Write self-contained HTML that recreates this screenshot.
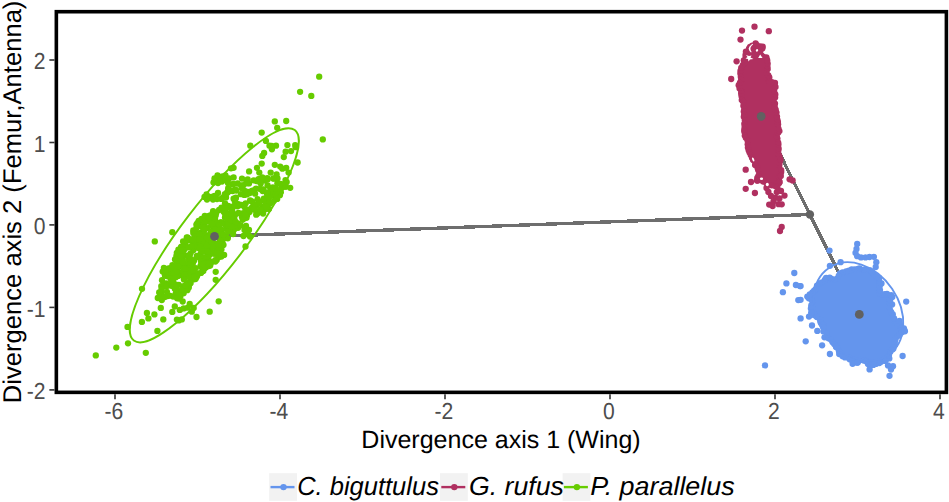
<!DOCTYPE html>
<html><head><meta charset="utf-8"><style>html,body{margin:0;padding:0;background:#fff;overflow:hidden}svg{display:block;font-family:'Liberation Sans',sans-serif}</style></head>
<body><svg width="949" height="502" viewBox="0 0 949 502" text-rendering="geometricPrecision">
<rect width="949" height="502" fill="#fff"/>
<g stroke="#6e6e6e" stroke-width="3.4" stroke-linecap="butt" shape-rendering="crispEdges"><line x1="214.5" y1="236.4" x2="809.9" y2="214.5"/><line x1="761.2" y1="116.3" x2="809.9" y2="214.5"/><line x1="859.3" y1="314.4" x2="809.9" y2="214.5"/></g><g fill="#66CC00"><circle cx="178.1" cy="291.2" r="3.15"/><circle cx="175.7" cy="293.7" r="3.15"/><circle cx="207.0" cy="239.8" r="3.15"/><circle cx="185.5" cy="245.0" r="3.15"/><circle cx="204.9" cy="249.7" r="3.15"/><circle cx="178.1" cy="259.8" r="3.15"/><circle cx="203.9" cy="234.5" r="3.15"/><circle cx="249.0" cy="183.4" r="3.15"/><circle cx="162.0" cy="280.2" r="3.15"/><circle cx="175.4" cy="267.9" r="3.15"/><circle cx="270.1" cy="203.5" r="3.15"/><circle cx="215.7" cy="215.5" r="3.15"/><circle cx="279.9" cy="195.2" r="3.15"/><circle cx="257.9" cy="181.1" r="3.15"/><circle cx="241.9" cy="216.8" r="3.15"/><circle cx="199.9" cy="225.5" r="3.15"/><circle cx="167.5" cy="276.2" r="3.15"/><circle cx="165.2" cy="275.6" r="3.15"/><circle cx="193.7" cy="274.1" r="3.15"/><circle cx="223.8" cy="212.0" r="3.15"/><circle cx="237.4" cy="206.3" r="3.15"/><circle cx="205.4" cy="267.3" r="3.15"/><circle cx="179.0" cy="275.3" r="3.15"/><circle cx="257.4" cy="213.6" r="3.15"/><circle cx="203.2" cy="269.2" r="3.15"/><circle cx="178.8" cy="284.8" r="3.15"/><circle cx="232.7" cy="184.4" r="3.15"/><circle cx="176.8" cy="252.8" r="3.15"/><circle cx="227.8" cy="238.3" r="3.15"/><circle cx="228.8" cy="191.5" r="3.15"/><circle cx="185.9" cy="264.8" r="3.15"/><circle cx="215.7" cy="226.7" r="3.15"/><circle cx="285.5" cy="186.5" r="3.15"/><circle cx="206.1" cy="239.3" r="3.15"/><circle cx="179.7" cy="292.3" r="3.15"/><circle cx="236.3" cy="225.9" r="3.15"/><circle cx="221.1" cy="241.3" r="3.15"/><circle cx="263.1" cy="207.0" r="3.15"/><circle cx="215.7" cy="221.6" r="3.15"/><circle cx="261.4" cy="178.9" r="3.15"/><circle cx="236.9" cy="204.6" r="3.15"/><circle cx="202.8" cy="246.2" r="3.15"/><circle cx="209.0" cy="215.8" r="3.15"/><circle cx="186.9" cy="286.4" r="3.15"/><circle cx="278.6" cy="192.5" r="3.15"/><circle cx="235.2" cy="214.7" r="3.15"/><circle cx="194.2" cy="260.5" r="3.15"/><circle cx="197.4" cy="223.1" r="3.15"/><circle cx="209.1" cy="219.0" r="3.15"/><circle cx="273.3" cy="195.5" r="3.15"/><circle cx="183.1" cy="241.5" r="3.15"/><circle cx="225.7" cy="216.8" r="3.15"/><circle cx="219.0" cy="235.3" r="3.15"/><circle cx="180.2" cy="292.8" r="3.15"/><circle cx="241.6" cy="204.9" r="3.15"/><circle cx="161.2" cy="291.8" r="3.15"/><circle cx="208.8" cy="242.7" r="3.15"/><circle cx="233.9" cy="217.7" r="3.15"/><circle cx="267.3" cy="178.2" r="3.15"/><circle cx="166.3" cy="283.5" r="3.15"/><circle cx="187.3" cy="290.2" r="3.15"/><circle cx="262.9" cy="207.3" r="3.15"/><circle cx="246.4" cy="181.8" r="3.15"/><circle cx="200.7" cy="253.7" r="3.15"/><circle cx="217.3" cy="235.9" r="3.15"/><circle cx="210.5" cy="215.3" r="3.15"/><circle cx="193.3" cy="250.2" r="3.15"/><circle cx="232.1" cy="231.3" r="3.15"/><circle cx="203.9" cy="263.9" r="3.15"/><circle cx="216.7" cy="251.5" r="3.15"/><circle cx="221.4" cy="256.6" r="3.15"/><circle cx="252.3" cy="201.8" r="3.15"/><circle cx="206.3" cy="260.9" r="3.15"/><circle cx="192.0" cy="261.3" r="3.15"/><circle cx="249.8" cy="193.1" r="3.15"/><circle cx="198.7" cy="221.0" r="3.15"/><circle cx="196.4" cy="228.2" r="3.15"/><circle cx="192.8" cy="263.2" r="3.15"/><circle cx="228.8" cy="190.3" r="3.15"/><circle cx="229.6" cy="219.5" r="3.15"/><circle cx="206.5" cy="266.8" r="3.15"/><circle cx="186.7" cy="283.5" r="3.15"/><circle cx="217.8" cy="254.8" r="3.15"/><circle cx="204.6" cy="225.4" r="3.15"/><circle cx="253.7" cy="180.3" r="3.15"/><circle cx="259.1" cy="201.4" r="3.15"/><circle cx="174.8" cy="288.8" r="3.15"/><circle cx="232.5" cy="217.8" r="3.15"/><circle cx="258.4" cy="211.5" r="3.15"/><circle cx="217.4" cy="248.7" r="3.15"/><circle cx="166.1" cy="275.4" r="3.15"/><circle cx="195.0" cy="244.1" r="3.15"/><circle cx="230.7" cy="218.2" r="3.15"/><circle cx="217.3" cy="232.4" r="3.15"/><circle cx="238.4" cy="204.1" r="3.15"/><circle cx="204.8" cy="216.0" r="3.15"/><circle cx="248.7" cy="209.8" r="3.15"/><circle cx="238.1" cy="227.8" r="3.15"/><circle cx="281.6" cy="187.9" r="3.15"/><circle cx="215.8" cy="252.4" r="3.15"/><circle cx="286.7" cy="182.1" r="3.15"/><circle cx="226.8" cy="207.3" r="3.15"/><circle cx="191.9" cy="241.0" r="3.15"/><circle cx="178.3" cy="267.0" r="3.15"/><circle cx="193.9" cy="248.6" r="3.15"/><circle cx="243.7" cy="185.1" r="3.15"/><circle cx="247.8" cy="191.9" r="3.15"/><circle cx="212.3" cy="239.5" r="3.15"/><circle cx="264.9" cy="180.5" r="3.15"/><circle cx="203.7" cy="247.4" r="3.15"/><circle cx="213.3" cy="236.7" r="3.15"/><circle cx="257.5" cy="199.2" r="3.15"/><circle cx="187.1" cy="288.8" r="3.15"/><circle cx="234.8" cy="201.0" r="3.15"/><circle cx="170.4" cy="271.6" r="3.15"/><circle cx="201.1" cy="241.4" r="3.15"/><circle cx="185.4" cy="271.6" r="3.15"/><circle cx="205.1" cy="268.0" r="3.15"/><circle cx="267.6" cy="179.6" r="3.15"/><circle cx="266.5" cy="205.5" r="3.15"/><circle cx="211.6" cy="251.6" r="3.15"/><circle cx="182.7" cy="261.9" r="3.15"/><circle cx="219.6" cy="247.6" r="3.15"/><circle cx="203.6" cy="220.4" r="3.15"/><circle cx="214.8" cy="221.2" r="3.15"/><circle cx="265.1" cy="209.3" r="3.15"/><circle cx="234.0" cy="205.9" r="3.15"/><circle cx="189.8" cy="273.1" r="3.15"/><circle cx="189.8" cy="283.8" r="3.15"/><circle cx="180.1" cy="275.0" r="3.15"/><circle cx="213.2" cy="235.4" r="3.15"/><circle cx="193.5" cy="271.5" r="3.15"/><circle cx="183.6" cy="293.2" r="3.15"/><circle cx="177.8" cy="270.9" r="3.15"/><circle cx="201.1" cy="261.4" r="3.15"/><circle cx="218.9" cy="255.5" r="3.15"/><circle cx="220.6" cy="222.4" r="3.15"/><circle cx="263.1" cy="213.5" r="3.15"/><circle cx="214.2" cy="253.8" r="3.15"/><circle cx="251.6" cy="207.8" r="3.15"/><circle cx="270.4" cy="188.2" r="3.15"/><circle cx="195.2" cy="243.6" r="3.15"/><circle cx="179.1" cy="261.5" r="3.15"/><circle cx="186.0" cy="270.8" r="3.15"/><circle cx="220.8" cy="232.0" r="3.15"/><circle cx="203.3" cy="270.9" r="3.15"/><circle cx="226.2" cy="228.3" r="3.15"/><circle cx="196.9" cy="276.5" r="3.15"/><circle cx="170.8" cy="268.1" r="3.15"/><circle cx="229.6" cy="206.6" r="3.15"/><circle cx="210.2" cy="243.5" r="3.15"/><circle cx="223.4" cy="244.9" r="3.15"/><circle cx="177.9" cy="297.9" r="3.15"/><circle cx="221.6" cy="222.5" r="3.15"/><circle cx="213.1" cy="230.5" r="3.15"/><circle cx="267.6" cy="185.3" r="3.15"/><circle cx="183.6" cy="286.2" r="3.15"/><circle cx="181.2" cy="257.3" r="3.15"/><circle cx="175.2" cy="274.2" r="3.15"/><circle cx="193.1" cy="279.4" r="3.15"/><circle cx="177.9" cy="275.9" r="3.15"/><circle cx="209.4" cy="255.0" r="3.15"/><circle cx="195.3" cy="231.7" r="3.15"/><circle cx="162.4" cy="287.3" r="3.15"/><circle cx="202.9" cy="235.2" r="3.15"/><circle cx="256.3" cy="205.4" r="3.15"/><circle cx="168.6" cy="268.3" r="3.15"/><circle cx="182.0" cy="264.4" r="3.15"/><circle cx="217.0" cy="252.1" r="3.15"/><circle cx="184.6" cy="249.2" r="3.15"/><circle cx="191.4" cy="266.2" r="3.15"/><circle cx="243.2" cy="213.1" r="3.15"/><circle cx="221.9" cy="230.5" r="3.15"/><circle cx="277.4" cy="183.2" r="3.15"/><circle cx="180.5" cy="296.1" r="3.15"/><circle cx="196.9" cy="257.2" r="3.15"/><circle cx="261.4" cy="212.1" r="3.15"/><circle cx="237.7" cy="183.5" r="3.15"/><circle cx="244.3" cy="194.9" r="3.15"/><circle cx="201.8" cy="267.5" r="3.15"/><circle cx="262.8" cy="189.8" r="3.15"/><circle cx="264.7" cy="201.2" r="3.15"/><circle cx="208.1" cy="257.5" r="3.15"/><circle cx="238.2" cy="224.5" r="3.15"/><circle cx="196.4" cy="246.0" r="3.15"/><circle cx="210.7" cy="252.7" r="3.15"/><circle cx="232.4" cy="207.8" r="3.15"/><circle cx="216.7" cy="259.9" r="3.15"/><circle cx="195.0" cy="276.0" r="3.15"/><circle cx="184.3" cy="277.7" r="3.15"/><circle cx="258.6" cy="179.2" r="3.15"/><circle cx="173.1" cy="296.5" r="3.15"/><circle cx="211.1" cy="225.8" r="3.15"/><circle cx="234.3" cy="218.7" r="3.15"/><circle cx="219.9" cy="239.4" r="3.15"/><circle cx="215.4" cy="261.6" r="3.15"/><circle cx="181.6" cy="246.7" r="3.15"/><circle cx="169.5" cy="295.7" r="3.15"/><circle cx="181.3" cy="265.1" r="3.15"/><circle cx="220.1" cy="246.0" r="3.15"/><circle cx="241.3" cy="185.5" r="3.15"/><circle cx="194.4" cy="277.6" r="3.15"/><circle cx="212.0" cy="217.8" r="3.15"/><circle cx="269.1" cy="193.3" r="3.15"/><circle cx="225.0" cy="217.4" r="3.15"/><circle cx="200.2" cy="233.0" r="3.15"/><circle cx="203.7" cy="231.8" r="3.15"/><circle cx="164.9" cy="275.1" r="3.15"/><circle cx="163.7" cy="283.7" r="3.15"/><circle cx="185.1" cy="277.3" r="3.15"/><circle cx="188.9" cy="240.2" r="3.15"/><circle cx="276.2" cy="195.9" r="3.15"/><circle cx="280.8" cy="192.2" r="3.15"/><circle cx="212.8" cy="213.2" r="3.15"/><circle cx="194.6" cy="232.6" r="3.15"/><circle cx="267.3" cy="198.2" r="3.15"/><circle cx="232.7" cy="191.1" r="3.15"/><circle cx="204.2" cy="229.7" r="3.15"/><circle cx="182.9" cy="247.2" r="3.15"/><circle cx="255.1" cy="193.7" r="3.15"/><circle cx="200.9" cy="236.0" r="3.15"/><circle cx="231.0" cy="212.1" r="3.15"/><circle cx="233.2" cy="219.2" r="3.15"/><circle cx="170.4" cy="270.4" r="3.15"/><circle cx="260.1" cy="188.9" r="3.15"/><circle cx="269.0" cy="197.2" r="3.15"/><circle cx="251.8" cy="190.8" r="3.15"/><circle cx="214.2" cy="246.0" r="3.15"/><circle cx="219.3" cy="247.2" r="3.15"/><circle cx="186.4" cy="240.7" r="3.15"/><circle cx="204.0" cy="223.2" r="3.15"/><circle cx="247.2" cy="192.1" r="3.15"/><circle cx="209.8" cy="261.4" r="3.15"/><circle cx="196.0" cy="242.6" r="3.15"/><circle cx="178.4" cy="249.7" r="3.15"/><circle cx="210.9" cy="261.8" r="3.15"/><circle cx="182.8" cy="259.3" r="3.15"/><circle cx="285.4" cy="186.7" r="3.15"/><circle cx="219.1" cy="210.0" r="3.15"/><circle cx="170.5" cy="269.3" r="3.15"/><circle cx="204.8" cy="236.4" r="3.15"/><circle cx="162.7" cy="271.6" r="3.15"/><circle cx="167.6" cy="296.1" r="3.15"/><circle cx="233.6" cy="198.7" r="3.15"/><circle cx="255.5" cy="205.4" r="3.15"/><circle cx="259.3" cy="203.7" r="3.15"/><circle cx="201.6" cy="242.0" r="3.15"/><circle cx="261.9" cy="208.3" r="3.15"/><circle cx="247.9" cy="183.0" r="3.15"/><circle cx="226.0" cy="237.2" r="3.15"/><circle cx="201.2" cy="265.1" r="3.15"/><circle cx="200.7" cy="256.8" r="3.15"/><circle cx="247.7" cy="179.3" r="3.15"/><circle cx="183.1" cy="271.5" r="3.15"/><circle cx="219.1" cy="243.6" r="3.15"/><circle cx="233.3" cy="213.9" r="3.15"/><circle cx="203.2" cy="234.5" r="3.15"/><circle cx="226.0" cy="225.1" r="3.15"/><circle cx="234.2" cy="229.2" r="3.15"/><circle cx="253.1" cy="206.6" r="3.15"/><circle cx="228.2" cy="188.2" r="3.15"/><circle cx="220.0" cy="233.6" r="3.15"/><circle cx="177.0" cy="263.1" r="3.15"/><circle cx="201.8" cy="260.2" r="3.15"/><circle cx="227.5" cy="191.8" r="3.15"/><circle cx="161.3" cy="286.1" r="3.15"/><circle cx="219.2" cy="227.8" r="3.15"/><circle cx="202.1" cy="227.1" r="3.15"/><circle cx="219.7" cy="254.8" r="3.15"/><circle cx="208.5" cy="235.2" r="3.15"/><circle cx="197.6" cy="244.3" r="3.15"/><circle cx="177.6" cy="270.5" r="3.15"/><circle cx="204.1" cy="248.9" r="3.15"/><circle cx="216.0" cy="246.7" r="3.15"/><circle cx="176.4" cy="255.8" r="3.15"/><circle cx="194.9" cy="235.6" r="3.15"/><circle cx="169.7" cy="273.8" r="3.15"/><circle cx="265.3" cy="201.4" r="3.15"/><circle cx="229.1" cy="223.6" r="3.15"/><circle cx="214.3" cy="214.0" r="3.15"/><circle cx="169.6" cy="272.5" r="3.15"/><circle cx="172.2" cy="273.1" r="3.15"/><circle cx="218.4" cy="231.3" r="3.15"/><circle cx="273.8" cy="194.2" r="3.15"/><circle cx="226.0" cy="197.4" r="3.15"/><circle cx="198.1" cy="247.4" r="3.15"/><circle cx="245.1" cy="218.1" r="3.15"/><circle cx="225.6" cy="214.9" r="3.15"/><circle cx="188.0" cy="274.2" r="3.15"/><circle cx="188.7" cy="263.3" r="3.15"/><circle cx="189.2" cy="282.6" r="3.15"/><circle cx="231.8" cy="216.9" r="3.15"/><circle cx="184.6" cy="255.1" r="3.15"/><circle cx="181.0" cy="247.1" r="3.15"/><circle cx="266.0" cy="201.9" r="3.15"/><circle cx="178.1" cy="263.5" r="3.15"/><circle cx="260.7" cy="183.4" r="3.15"/><circle cx="207.2" cy="228.4" r="3.15"/><circle cx="228.7" cy="207.0" r="3.15"/><circle cx="188.4" cy="258.7" r="3.15"/><circle cx="200.5" cy="266.0" r="3.15"/><circle cx="269.5" cy="202.7" r="3.15"/><circle cx="201.8" cy="245.4" r="3.15"/><circle cx="184.2" cy="263.4" r="3.15"/><circle cx="161.5" cy="289.1" r="3.15"/><circle cx="261.5" cy="209.5" r="3.15"/><circle cx="272.8" cy="187.5" r="3.15"/><circle cx="259.0" cy="179.3" r="3.15"/><circle cx="175.4" cy="266.5" r="3.15"/><circle cx="206.8" cy="248.0" r="3.15"/><circle cx="206.4" cy="250.6" r="3.15"/><circle cx="232.5" cy="223.9" r="3.15"/><circle cx="225.0" cy="203.3" r="3.15"/><circle cx="285.1" cy="184.6" r="3.15"/><circle cx="190.6" cy="253.3" r="3.15"/><circle cx="218.6" cy="257.2" r="3.15"/><circle cx="196.8" cy="236.3" r="3.15"/><circle cx="224.6" cy="224.2" r="3.15"/><circle cx="173.0" cy="281.1" r="3.15"/><circle cx="175.4" cy="285.9" r="3.15"/><circle cx="193.3" cy="232.9" r="3.15"/><circle cx="189.5" cy="277.5" r="3.15"/><circle cx="244.6" cy="207.2" r="3.15"/><circle cx="249.5" cy="211.9" r="3.15"/><circle cx="262.6" cy="191.1" r="3.15"/><circle cx="201.6" cy="219.0" r="3.15"/><circle cx="233.1" cy="234.0" r="3.15"/><circle cx="173.5" cy="267.3" r="3.15"/><circle cx="220.0" cy="239.4" r="3.15"/><circle cx="212.7" cy="234.9" r="3.15"/><circle cx="235.9" cy="197.6" r="3.15"/><circle cx="192.2" cy="247.1" r="3.15"/><circle cx="167.3" cy="270.3" r="3.15"/><circle cx="215.0" cy="218.6" r="3.15"/><circle cx="235.7" cy="198.4" r="3.15"/><circle cx="189.1" cy="268.2" r="3.15"/><circle cx="223.0" cy="197.5" r="3.15"/><circle cx="189.0" cy="239.3" r="3.15"/><circle cx="247.0" cy="215.2" r="3.15"/><circle cx="280.7" cy="183.8" r="3.15"/><circle cx="260.0" cy="210.2" r="3.15"/><circle cx="273.1" cy="190.4" r="3.15"/><circle cx="235.2" cy="189.3" r="3.15"/><circle cx="167.8" cy="285.7" r="3.15"/><circle cx="168.4" cy="274.6" r="3.15"/><circle cx="196.0" cy="277.6" r="3.15"/><circle cx="202.6" cy="264.1" r="3.15"/><circle cx="204.4" cy="250.9" r="3.15"/><circle cx="224.3" cy="238.3" r="3.15"/><circle cx="221.7" cy="208.3" r="3.15"/><circle cx="176.3" cy="271.9" r="3.15"/><circle cx="196.5" cy="274.4" r="3.15"/><circle cx="200.3" cy="257.4" r="3.15"/><circle cx="273.7" cy="178.6" r="3.15"/><circle cx="213.2" cy="236.1" r="3.15"/><circle cx="274.7" cy="191.5" r="3.15"/><circle cx="263.5" cy="189.5" r="3.15"/><circle cx="217.0" cy="229.2" r="3.15"/><circle cx="183.0" cy="249.8" r="3.15"/><circle cx="166.5" cy="285.9" r="3.15"/><circle cx="223.1" cy="244.7" r="3.15"/><circle cx="203.1" cy="241.4" r="3.15"/><circle cx="205.3" cy="251.0" r="3.15"/><circle cx="227.2" cy="223.0" r="3.15"/><circle cx="221.2" cy="198.9" r="3.15"/><circle cx="277.1" cy="196.2" r="3.15"/><circle cx="182.9" cy="253.9" r="3.15"/><circle cx="210.3" cy="249.5" r="3.15"/><circle cx="204.5" cy="217.8" r="3.15"/><circle cx="173.2" cy="274.9" r="3.15"/><circle cx="256.0" cy="188.6" r="3.15"/><circle cx="277.2" cy="198.9" r="3.15"/><circle cx="278.5" cy="192.0" r="3.15"/><circle cx="187.8" cy="237.7" r="3.15"/><circle cx="179.3" cy="298.5" r="3.15"/><circle cx="196.4" cy="224.6" r="3.15"/><circle cx="229.0" cy="226.8" r="3.15"/><circle cx="190.6" cy="283.1" r="3.15"/><circle cx="162.0" cy="295.6" r="3.15"/><circle cx="219.0" cy="229.1" r="3.15"/><circle cx="231.8" cy="225.4" r="3.15"/><circle cx="200.3" cy="246.9" r="3.15"/><circle cx="237.4" cy="223.5" r="3.15"/><circle cx="203.9" cy="248.5" r="3.15"/><circle cx="211.1" cy="232.0" r="3.15"/><circle cx="172.1" cy="285.9" r="3.15"/><circle cx="246.8" cy="194.4" r="3.15"/><circle cx="225.0" cy="209.8" r="3.15"/><circle cx="188.7" cy="272.6" r="3.15"/><circle cx="196.9" cy="255.9" r="3.15"/><circle cx="181.0" cy="255.8" r="3.15"/><circle cx="205.0" cy="257.6" r="3.15"/><circle cx="256.5" cy="181.0" r="3.15"/><circle cx="253.6" cy="190.5" r="3.15"/><circle cx="196.6" cy="234.6" r="3.15"/><circle cx="199.4" cy="248.4" r="3.15"/><circle cx="265.8" cy="206.4" r="3.15"/><circle cx="214.5" cy="243.3" r="3.15"/><circle cx="201.0" cy="272.9" r="3.15"/><circle cx="263.8" cy="198.7" r="3.15"/><circle cx="208.7" cy="237.1" r="3.15"/><circle cx="205.3" cy="228.0" r="3.15"/><circle cx="188.8" cy="287.5" r="3.15"/><circle cx="175.8" cy="277.3" r="3.15"/><circle cx="256.2" cy="214.7" r="3.15"/><circle cx="203.0" cy="227.3" r="3.15"/><circle cx="174.0" cy="283.6" r="3.15"/><circle cx="246.5" cy="217.7" r="3.15"/><circle cx="210.8" cy="233.6" r="3.15"/><circle cx="165.8" cy="271.1" r="3.15"/><circle cx="230.5" cy="213.9" r="3.15"/><circle cx="225.6" cy="196.4" r="3.15"/><circle cx="203.2" cy="251.5" r="3.15"/><circle cx="226.5" cy="237.3" r="3.15"/><circle cx="212.0" cy="244.9" r="3.15"/><circle cx="177.0" cy="284.9" r="3.15"/><circle cx="273.9" cy="200.8" r="3.15"/><circle cx="189.4" cy="255.2" r="3.15"/><circle cx="177.4" cy="261.2" r="3.15"/><circle cx="224.9" cy="194.1" r="3.15"/><circle cx="244.7" cy="190.8" r="3.15"/><circle cx="219.3" cy="225.4" r="3.15"/><circle cx="253.5" cy="207.6" r="3.15"/><circle cx="240.9" cy="194.2" r="3.15"/><circle cx="213.8" cy="244.1" r="3.15"/><circle cx="172.4" cy="265.2" r="3.15"/><circle cx="224.1" cy="254.9" r="3.15"/><circle cx="285.5" cy="180.1" r="3.15"/><circle cx="277.5" cy="178.5" r="3.15"/><circle cx="186.8" cy="237.3" r="3.15"/><circle cx="177.1" cy="298.3" r="3.15"/><circle cx="195.5" cy="279.1" r="3.15"/><circle cx="206.4" cy="256.8" r="3.15"/><circle cx="246.6" cy="211.9" r="3.15"/><circle cx="184.7" cy="275.0" r="3.15"/><circle cx="235.4" cy="228.2" r="3.15"/><circle cx="193.9" cy="245.8" r="3.15"/><circle cx="215.6" cy="229.6" r="3.15"/><circle cx="197.7" cy="235.3" r="3.15"/><circle cx="220.4" cy="232.6" r="3.15"/><circle cx="230.2" cy="190.5" r="3.15"/><circle cx="275.7" cy="188.0" r="3.15"/><circle cx="210.2" cy="265.6" r="3.15"/><circle cx="209.0" cy="253.6" r="3.15"/><circle cx="222.3" cy="255.0" r="3.15"/><circle cx="221.5" cy="207.6" r="3.15"/><circle cx="207.3" cy="246.0" r="3.15"/><circle cx="176.5" cy="264.0" r="3.15"/><circle cx="217.2" cy="234.9" r="3.15"/><circle cx="241.6" cy="188.0" r="3.15"/><circle cx="178.5" cy="266.3" r="3.15"/><circle cx="221.4" cy="249.4" r="3.15"/><circle cx="236.4" cy="190.6" r="3.15"/><circle cx="251.8" cy="201.3" r="3.15"/><circle cx="194.3" cy="277.6" r="3.15"/><circle cx="233.3" cy="183.8" r="3.15"/><circle cx="275.7" cy="188.5" r="3.15"/><circle cx="179.8" cy="293.8" r="3.15"/><circle cx="222.6" cy="239.8" r="3.15"/><circle cx="267.2" cy="196.2" r="3.15"/><circle cx="233.1" cy="230.8" r="3.15"/><circle cx="185.4" cy="288.7" r="3.15"/><circle cx="227.0" cy="192.9" r="3.15"/><circle cx="220.7" cy="229.5" r="3.15"/><circle cx="226.0" cy="212.9" r="3.15"/><circle cx="195.1" cy="234.1" r="3.15"/><circle cx="182.0" cy="289.6" r="3.15"/><circle cx="232.1" cy="210.3" r="3.15"/><circle cx="211.2" cy="251.9" r="3.15"/><circle cx="196.4" cy="239.8" r="3.15"/><circle cx="210.9" cy="263.1" r="3.15"/><circle cx="217.7" cy="235.4" r="3.15"/><circle cx="213.4" cy="246.0" r="3.15"/><circle cx="268.9" cy="208.9" r="3.15"/><circle cx="183.9" cy="279.4" r="3.15"/><circle cx="189.1" cy="255.6" r="3.15"/><circle cx="250.1" cy="200.5" r="3.15"/><circle cx="213.1" cy="211.2" r="3.15"/><circle cx="206.8" cy="245.6" r="3.15"/><circle cx="170.5" cy="278.5" r="3.15"/><circle cx="245.7" cy="203.3" r="3.15"/><circle cx="188.8" cy="247.3" r="3.15"/><circle cx="230.9" cy="226.3" r="3.15"/><circle cx="211.3" cy="241.7" r="3.15"/><circle cx="195.7" cy="268.2" r="3.15"/><circle cx="266.5" cy="206.8" r="3.15"/><circle cx="193.3" cy="230.5" r="3.15"/><circle cx="260.2" cy="210.0" r="3.15"/><circle cx="228.2" cy="223.8" r="3.15"/><circle cx="238.5" cy="213.0" r="3.15"/><circle cx="184.1" cy="268.1" r="3.15"/><circle cx="219.4" cy="249.8" r="3.15"/><circle cx="159.2" cy="292.4" r="3.15"/><circle cx="182.8" cy="262.2" r="3.15"/><circle cx="193.7" cy="240.9" r="3.15"/><circle cx="218.3" cy="244.8" r="3.15"/><circle cx="207.9" cy="251.6" r="3.15"/><circle cx="245.3" cy="214.8" r="3.15"/><circle cx="226.6" cy="218.8" r="3.15"/><circle cx="199.4" cy="234.6" r="3.15"/><circle cx="166.9" cy="291.8" r="3.15"/><circle cx="275.3" cy="188.5" r="3.15"/><circle cx="171.6" cy="281.1" r="3.15"/><circle cx="231.6" cy="220.5" r="3.15"/><circle cx="240.6" cy="225.4" r="3.15"/><circle cx="187.5" cy="270.1" r="3.15"/><circle cx="242.6" cy="219.8" r="3.15"/><circle cx="207.5" cy="221.4" r="3.15"/><circle cx="193.4" cy="270.8" r="3.15"/><circle cx="254.4" cy="204.5" r="3.15"/><circle cx="188.8" cy="285.0" r="3.15"/><circle cx="254.4" cy="209.8" r="3.15"/><circle cx="223.4" cy="234.7" r="3.15"/><circle cx="192.4" cy="239.2" r="3.15"/><circle cx="228.1" cy="231.8" r="3.15"/><circle cx="214.7" cy="219.9" r="3.15"/><circle cx="266.8" cy="193.1" r="3.15"/><circle cx="267.2" cy="192.7" r="3.15"/><circle cx="175.0" cy="259.4" r="3.15"/><circle cx="285.2" cy="183.6" r="3.15"/><circle cx="185.4" cy="268.8" r="3.15"/><circle cx="191.5" cy="246.1" r="3.15"/><circle cx="206.7" cy="238.1" r="3.15"/><circle cx="228.0" cy="205.8" r="3.15"/><circle cx="198.8" cy="273.5" r="3.15"/><circle cx="239.5" cy="205.3" r="3.15"/><circle cx="235.7" cy="221.9" r="3.15"/><circle cx="199.4" cy="239.1" r="3.15"/><circle cx="175.8" cy="289.1" r="3.15"/><circle cx="273.2" cy="178.4" r="3.15"/><circle cx="208.7" cy="266.0" r="3.15"/><circle cx="180.5" cy="250.6" r="3.15"/><circle cx="185.9" cy="285.8" r="3.15"/><circle cx="209.5" cy="263.6" r="3.15"/><circle cx="219.1" cy="253.1" r="3.15"/><circle cx="215.2" cy="260.1" r="3.15"/><circle cx="212.1" cy="223.8" r="3.15"/><circle cx="191.0" cy="259.1" r="3.15"/><circle cx="268.3" cy="197.3" r="3.15"/><circle cx="220.3" cy="241.0" r="3.15"/><circle cx="185.9" cy="285.5" r="3.15"/><circle cx="225.9" cy="208.1" r="3.15"/><circle cx="216.2" cy="213.1" r="3.15"/><circle cx="203.8" cy="228.6" r="3.15"/><circle cx="209.0" cy="218.3" r="3.15"/><circle cx="213.5" cy="182.5" r="3.15"/><circle cx="216.5" cy="179.5" r="3.15"/><circle cx="219.5" cy="177.0" r="3.15"/><circle cx="222.5" cy="176.5" r="3.15"/><circle cx="214.5" cy="178.5" r="3.15"/><circle cx="218.0" cy="183.0" r="3.15"/><circle cx="222.0" cy="181.5" r="3.15"/><circle cx="226.0" cy="180.0" r="3.15"/><circle cx="229.0" cy="178.5" r="3.15"/><circle cx="225.5" cy="175.5" r="3.15"/><circle cx="217.5" cy="175.5" r="3.15"/><circle cx="228.0" cy="183.0" r="3.15"/><circle cx="204.5" cy="197.0" r="3.15"/><circle cx="208.0" cy="196.5" r="3.15"/><circle cx="211.5" cy="197.0" r="3.15"/><circle cx="214.5" cy="196.0" r="3.15"/><circle cx="207.0" cy="199.5" r="3.15"/><circle cx="213.0" cy="199.5" r="3.15"/><circle cx="206.5" cy="194.5" r="3.15"/><circle cx="217.0" cy="199.0" r="3.15"/><circle cx="218.0" cy="193.0" r="3.15"/><circle cx="319.2" cy="76.7" r="3.15"/><circle cx="300.1" cy="91.8" r="3.15"/><circle cx="311.3" cy="95.9" r="3.15"/><circle cx="322.8" cy="139.4" r="3.15"/><circle cx="274.8" cy="121.4" r="3.15"/><circle cx="286.2" cy="121.0" r="3.15"/><circle cx="277.2" cy="127.8" r="3.15"/><circle cx="261.7" cy="132.6" r="3.15"/><circle cx="250.3" cy="145.7" r="3.15"/><circle cx="265.9" cy="140.9" r="3.15"/><circle cx="269.5" cy="145.7" r="3.15"/><circle cx="271.9" cy="149.3" r="3.15"/><circle cx="276.0" cy="145.7" r="3.15"/><circle cx="287.4" cy="145.1" r="3.15"/><circle cx="295.2" cy="145.1" r="3.15"/><circle cx="291.0" cy="151.1" r="3.15"/><circle cx="285.6" cy="151.7" r="3.15"/><circle cx="283.8" cy="157.1" r="3.15"/><circle cx="264.1" cy="152.9" r="3.15"/><circle cx="262.3" cy="155.9" r="3.15"/><circle cx="297.6" cy="162.5" r="3.15"/><circle cx="261.7" cy="163.6" r="3.15"/><circle cx="274.8" cy="164.8" r="3.15"/><circle cx="280.2" cy="166.6" r="3.15"/><circle cx="286.2" cy="167.8" r="3.15"/><circle cx="288.6" cy="172.6" r="3.15"/><circle cx="233.6" cy="167.8" r="3.15"/><circle cx="249.1" cy="171.4" r="3.15"/><circle cx="256.9" cy="167.8" r="3.15"/><circle cx="259.3" cy="172.6" r="3.15"/><circle cx="270.7" cy="172.6" r="3.15"/><circle cx="276.6" cy="174.4" r="3.15"/><circle cx="233.6" cy="177.4" r="3.15"/><circle cx="242.0" cy="178.6" r="3.15"/><circle cx="262.3" cy="177.4" r="3.15"/><circle cx="271.7" cy="146.0" r="3.15"/><circle cx="295.6" cy="147.2" r="3.15"/><circle cx="282.4" cy="168.7" r="3.15"/><circle cx="231.0" cy="168.3" r="3.15"/><circle cx="290.2" cy="187.8" r="3.15"/><circle cx="154.8" cy="241.4" r="3.15"/><circle cx="172.3" cy="232.2" r="3.15"/><circle cx="163.9" cy="267.8" r="3.15"/><circle cx="142.0" cy="288.8" r="3.15"/><circle cx="246.0" cy="226.0" r="3.15"/><circle cx="249.0" cy="230.0" r="3.15"/><circle cx="247.5" cy="234.0" r="3.15"/><circle cx="250.0" cy="236.5" r="3.15"/><circle cx="244.5" cy="230.0" r="3.15"/><circle cx="245.5" cy="246.5" r="3.15"/><circle cx="243.5" cy="236.0" r="3.15"/><circle cx="215.7" cy="271.8" r="3.15"/><circle cx="215.7" cy="279.8" r="3.15"/><circle cx="218.7" cy="301.3" r="3.15"/><circle cx="209.7" cy="311.7" r="3.15"/><circle cx="196.5" cy="317.0" r="3.15"/><circle cx="128.0" cy="343.3" r="3.15"/><circle cx="127.5" cy="326.9" r="3.15"/><circle cx="141.9" cy="321.9" r="3.15"/><circle cx="146.9" cy="312.9" r="3.15"/><circle cx="148.4" cy="318.4" r="3.15"/><circle cx="154.4" cy="314.4" r="3.15"/><circle cx="160.8" cy="307.9" r="3.15"/><circle cx="163.3" cy="319.4" r="3.15"/><circle cx="157.4" cy="330.9" r="3.15"/><circle cx="172.3" cy="311.9" r="3.15"/><circle cx="174.8" cy="306.5" r="3.15"/><circle cx="179.8" cy="309.9" r="3.15"/><circle cx="183.7" cy="308.4" r="3.15"/><circle cx="178.8" cy="320.4" r="3.15"/><circle cx="181.8" cy="319.4" r="3.15"/><circle cx="182.7" cy="301.5" r="3.15"/><circle cx="189.7" cy="304.0" r="3.15"/><circle cx="193.7" cy="308.0" r="3.15"/><circle cx="157.8" cy="298.0" r="3.15"/><circle cx="161.8" cy="300.0" r="3.15"/><circle cx="164.8" cy="297.0" r="3.15"/><circle cx="176.9" cy="319.6" r="3.15"/><circle cx="187.8" cy="307.7" r="3.15"/><circle cx="191.8" cy="311.7" r="3.15"/><circle cx="95.8" cy="355.4" r="3.15"/><circle cx="116.3" cy="347.6" r="3.15"/><circle cx="145.8" cy="352.8" r="3.15"/></g><polygon fill="#B03060" points="754.8,42.9 753.7,43.7 751.3,45.5 749.8,46.7 749.4,48.6 749.4,48.8 749.3,49.1 749.2,49.3 749.0,49.6 748.9,49.8 748.7,50.0 748.5,50.2 747.0,51.5 746.4,53.6 746.3,53.8 745.2,56.5 744.7,60.3 744.7,60.4 744.1,64.0 744.0,64.3 743.9,64.6 743.8,64.8 743.6,65.1 742.0,67.5 741.8,67.7 741.6,68.0 741.4,68.2 741.2,68.3 739.8,69.2 740.4,70.5 740.5,70.7 740.6,71.0 740.6,71.3 740.7,71.5 740.7,71.8 740.7,77.8 740.7,78.2 740.6,78.5 739.4,83.3 738.5,86.8 739.5,88.1 739.7,88.3 739.8,88.5 739.9,88.7 742.0,93.9 742.1,94.2 742.1,94.4 742.2,94.7 743.0,102.7 743.0,102.8 743.9,113.9 743.9,113.9 744.6,126.7 745.4,135.9 747.7,143.6 747.7,143.8 747.8,144.1 748.4,149.7 748.4,150.1 748.3,152.3 751.5,155.0 751.7,155.2 751.9,155.4 752.0,155.6 752.2,155.9 752.3,156.1 752.4,156.4 752.4,156.6 752.5,156.9 752.5,157.2 752.5,159.6 755.1,162.3 755.3,162.5 755.5,162.7 755.7,163.0 755.8,163.2 758.2,169.2 758.3,169.4 758.3,169.7 759.5,175.1 759.6,175.4 759.6,175.7 759.6,176.0 759.5,176.3 759.5,176.5 759.4,176.8 759.2,177.1 759.1,177.3 758.9,177.6 756.5,180.4 760.0,180.0 760.3,180.0 760.6,180.0 760.8,180.0 761.1,180.1 761.3,180.2 761.6,180.3 765.2,182.1 765.3,182.2 771.2,185.3 775.7,186.8 778.4,185.3 778.9,178.5 778.9,178.3 779.0,178.0 779.1,177.8 781.2,171.3 780.2,166.1 780.1,165.8 780.1,165.5 780.1,157.7 778.5,153.4 778.4,153.2 778.3,152.9 778.3,152.7 778.3,152.4 778.3,152.2 778.7,147.7 777.1,138.5 777.1,138.2 777.1,137.9 777.1,137.6 777.2,137.3 777.3,137.0 779.3,131.6 778.1,127.8 778.0,127.5 777.9,127.2 776.3,111.3 774.7,101.9 774.7,101.6 774.7,101.4 774.7,95.3 773.8,90.3 773.7,90.1 773.7,89.8 773.7,89.5 773.8,89.3 773.8,89.0 773.9,88.8 774.0,88.5 775.7,85.2 774.6,83.6 770.5,81.6 770.3,81.5 770.0,81.3 769.8,81.1 769.6,80.9 769.5,80.7 769.3,80.5 769.2,80.2 769.1,80.0 769.0,79.7 767.2,72.5 767.1,72.3 767.1,72.0 766.5,64.9 766.5,64.6 766.5,64.3 766.6,64.1 766.7,63.8 766.8,63.5 767.6,61.7 767.6,58.5 767.1,57.8 764.6,57.4 764.4,57.3 764.1,57.2 763.8,57.1 763.6,57.0 763.4,56.8 763.2,56.7 763.0,56.5 762.8,56.3 762.6,56.0 762.5,55.8 761.3,53.4 761.2,53.1 761.1,52.9 761.0,52.6 761.0,52.3 761.0,52.0 761.0,51.8 761.1,51.5 761.1,51.2 761.2,51.0 761.4,50.7 761.5,50.5 761.7,50.3 763.4,48.2 763.4,47.6 762.7,47.1 760.3,46.6 760.1,46.6 759.8,46.5 756.8,45.3 756.6,45.2 756.3,45.0 756.1,44.8 755.8,44.6 755.6,44.4 755.5,44.2 755.3,43.9 754.8,42.9"/><g fill="#B03060"><circle cx="755.6" cy="43.5" r="3.15"/><circle cx="752.3" cy="45.6" r="3.15"/><circle cx="750.1" cy="47.0" r="3.15"/><circle cx="749.0" cy="48.7" r="3.15"/><circle cx="745.9" cy="51.6" r="3.15"/><circle cx="745.7" cy="54.3" r="3.15"/><circle cx="745.6" cy="56.4" r="3.15"/><circle cx="743.8" cy="60.3" r="3.15"/><circle cx="744.4" cy="63.0" r="3.15"/><circle cx="742.8" cy="65.1" r="3.15"/><circle cx="741.2" cy="67.9" r="3.15"/><circle cx="740.5" cy="70.8" r="3.15"/><circle cx="740.4" cy="73.5" r="3.15"/><circle cx="740.8" cy="76.7" r="3.15"/><circle cx="741.2" cy="79.7" r="3.15"/><circle cx="740.0" cy="82.7" r="3.15"/><circle cx="738.7" cy="85.2" r="3.15"/><circle cx="739.6" cy="88.5" r="3.15"/><circle cx="741.3" cy="91.7" r="3.15"/><circle cx="741.2" cy="93.4" r="3.15"/><circle cx="741.5" cy="96.1" r="3.15"/><circle cx="741.8" cy="99.9" r="3.15"/><circle cx="743.3" cy="101.8" r="3.15"/><circle cx="743.4" cy="105.7" r="3.15"/><circle cx="744.3" cy="108.8" r="3.15"/><circle cx="743.8" cy="111.4" r="3.15"/><circle cx="744.2" cy="114.6" r="3.15"/><circle cx="743.8" cy="116.8" r="3.15"/><circle cx="744.8" cy="120.1" r="3.15"/><circle cx="744.3" cy="123.8" r="3.15"/><circle cx="744.6" cy="127.0" r="3.15"/><circle cx="744.3" cy="129.9" r="3.15"/><circle cx="744.4" cy="131.7" r="3.15"/><circle cx="744.8" cy="135.6" r="3.15"/><circle cx="745.8" cy="137.7" r="3.15"/><circle cx="747.6" cy="140.8" r="3.15"/><circle cx="747.7" cy="144.3" r="3.15"/><circle cx="747.9" cy="147.4" r="3.15"/><circle cx="748.7" cy="150.2" r="3.15"/><circle cx="749.6" cy="152.6" r="3.15"/><circle cx="750.8" cy="155.0" r="3.15"/><circle cx="752.0" cy="157.7" r="3.15"/><circle cx="753.1" cy="160.0" r="3.15"/><circle cx="755.6" cy="162.7" r="3.15"/><circle cx="755.1" cy="165.0" r="3.15"/><circle cx="757.7" cy="168.2" r="3.15"/><circle cx="758.3" cy="170.2" r="3.15"/><circle cx="759.3" cy="174.1" r="3.15"/><circle cx="758.4" cy="176.0" r="3.15"/><circle cx="757.3" cy="177.8" r="3.15"/><circle cx="757.6" cy="180.6" r="3.15"/><circle cx="760.3" cy="180.1" r="3.15"/><circle cx="763.2" cy="181.5" r="3.15"/><circle cx="766.6" cy="183.4" r="3.15"/><circle cx="769.0" cy="184.7" r="3.15"/><circle cx="771.8" cy="185.3" r="3.15"/><circle cx="775.2" cy="186.1" r="3.15"/><circle cx="777.3" cy="187.2" r="3.15"/><circle cx="779.0" cy="183.2" r="3.15"/><circle cx="778.9" cy="180.3" r="3.15"/><circle cx="779.0" cy="176.9" r="3.15"/><circle cx="780.2" cy="174.0" r="3.15"/><circle cx="781.2" cy="172.1" r="3.15"/><circle cx="781.2" cy="170.1" r="3.15"/><circle cx="779.3" cy="165.4" r="3.15"/><circle cx="779.6" cy="162.7" r="3.15"/><circle cx="780.5" cy="159.8" r="3.15"/><circle cx="779.5" cy="156.4" r="3.15"/><circle cx="778.4" cy="153.9" r="3.15"/><circle cx="778.3" cy="150.5" r="3.15"/><circle cx="778.6" cy="148.5" r="3.15"/><circle cx="778.4" cy="144.6" r="3.15"/><circle cx="778.2" cy="142.6" r="3.15"/><circle cx="777.4" cy="138.6" r="3.15"/><circle cx="776.8" cy="136.3" r="3.15"/><circle cx="778.1" cy="132.8" r="3.15"/><circle cx="779.4" cy="131.1" r="3.15"/><circle cx="778.4" cy="128.5" r="3.15"/><circle cx="778.1" cy="124.2" r="3.15"/><circle cx="777.9" cy="121.9" r="3.15"/><circle cx="777.3" cy="119.6" r="3.15"/><circle cx="777.0" cy="116.6" r="3.15"/><circle cx="776.5" cy="112.6" r="3.15"/><circle cx="775.7" cy="109.7" r="3.15"/><circle cx="774.7" cy="106.8" r="3.15"/><circle cx="775.0" cy="103.6" r="3.15"/><circle cx="773.6" cy="99.8" r="3.15"/><circle cx="775.1" cy="97.4" r="3.15"/><circle cx="775.3" cy="94.5" r="3.15"/><circle cx="774.2" cy="91.1" r="3.15"/><circle cx="773.5" cy="88.8" r="3.15"/><circle cx="775.5" cy="87.0" r="3.15"/><circle cx="775.0" cy="82.9" r="3.15"/><circle cx="771.9" cy="82.2" r="3.15"/><circle cx="769.1" cy="80.9" r="3.15"/><circle cx="769.3" cy="77.5" r="3.15"/><circle cx="768.3" cy="75.5" r="3.15"/><circle cx="766.6" cy="72.8" r="3.15"/><circle cx="767.7" cy="69.0" r="3.15"/><circle cx="767.4" cy="66.0" r="3.15"/><circle cx="767.6" cy="63.3" r="3.15"/><circle cx="767.2" cy="60.2" r="3.15"/><circle cx="766.4" cy="57.4" r="3.15"/><circle cx="763.0" cy="56.6" r="3.15"/><circle cx="761.3" cy="55.1" r="3.15"/><circle cx="760.1" cy="51.7" r="3.15"/><circle cx="762.3" cy="48.5" r="3.15"/><circle cx="762.7" cy="46.7" r="3.15"/><circle cx="760.1" cy="46.3" r="3.15"/><circle cx="756.8" cy="45.1" r="3.15"/></g><g fill="#B03060"><circle cx="742.0" cy="30.6" r="3.15"/><circle cx="754.5" cy="26.7" r="3.15"/><circle cx="768.8" cy="31.2" r="3.15"/><circle cx="740.5" cy="39.6" r="3.15"/><circle cx="736.6" cy="61.3" r="3.15"/><circle cx="731.2" cy="79.0" r="3.15"/><circle cx="745.7" cy="169.7" r="3.15"/><circle cx="745.7" cy="188.8" r="3.15"/><circle cx="754.9" cy="193.0" r="3.15"/><circle cx="792.6" cy="180.5" r="3.15"/><circle cx="789.6" cy="179.3" r="3.15"/><circle cx="769.2" cy="204.6" r="3.15"/><circle cx="772.6" cy="206.0" r="3.15"/><circle cx="778.6" cy="204.2" r="3.15"/><circle cx="781.7" cy="204.3" r="3.15"/><circle cx="784.5" cy="195.6" r="3.15"/><circle cx="781.0" cy="190.9" r="3.15"/><circle cx="775.4" cy="197.7" r="3.15"/><circle cx="776.8" cy="192.1" r="3.15"/><circle cx="771.0" cy="196.0" r="3.15"/><circle cx="768.4" cy="192.0" r="3.15"/><circle cx="779.4" cy="198.5" r="3.15"/><circle cx="773.5" cy="201.5" r="3.15"/><circle cx="766.5" cy="188.0" r="3.15"/><circle cx="781.7" cy="226.9" r="3.15"/><circle cx="780.0" cy="231.0" r="3.15"/><circle cx="779.7" cy="182.0" r="3.15"/><circle cx="780.8" cy="176.0" r="3.15"/><circle cx="757.0" cy="180.5" r="3.15"/><circle cx="751.0" cy="182.0" r="3.15"/></g><g fill="#fff"><polygon points="752.8,43.8 751.5,44.5 749.5,46.5 748.6,48.8 749.5,51 751,52.6 751.6,52 750.6,50 750.4,48 751.4,46 753,44.6"/><ellipse cx="757" cy="50.4" rx="1.1" ry="1.4" transform="rotate(30 757 50.4)"/><polygon points="746,55 749,56 751.5,55.5 750.5,57.5 753.5,59 750,59.5 748.5,61.5 748,59 745.5,58.5 747.5,57"/><polygon points="760.2,54.6 762.5,57.9 758.2,58.1"/><ellipse cx="761.5" cy="178.7" rx="1.6" ry="1.3"/><ellipse cx="767.3" cy="184.5" rx="1.5" ry="1.8"/><ellipse cx="753.2" cy="159.5" rx="1.0" ry="2.2" transform="rotate(-20 753.2 159.5)"/></g><polygon fill="#6495ED" points="807.0,296.1 808.0,297.2 808.2,297.3 811.2,300.9 811.4,301.2 811.5,301.4 811.7,301.7 811.8,301.9 811.8,302.2 811.9,302.5 811.9,302.8 811.9,303.0 811.3,310.0 811.7,314.8 814.9,315.6 815.2,315.6 815.5,315.7 815.7,315.9 815.9,316.0 816.1,316.2 816.3,316.4 819.9,320.0 820.1,320.2 820.3,320.4 820.5,320.6 820.6,320.9 823.0,326.8 823.1,327.1 824.9,333.1 824.9,333.3 825.0,333.5 825.4,336.8 828.8,338.5 829.1,338.7 829.3,338.8 829.5,339.1 834.3,343.9 834.6,344.1 834.8,344.4 838.4,350.3 838.5,350.6 838.6,350.9 838.7,351.2 839.6,354.8 841.7,356.2 848.3,357.3 848.5,357.4 848.8,357.5 849.0,357.6 849.3,357.7 849.5,357.8 849.7,358.0 849.9,358.2 853.9,362.4 856.6,363.1 860.3,360.3 860.5,360.1 860.8,360.0 861.0,359.9 861.3,359.8 861.6,359.7 861.9,359.7 862.2,359.7 862.4,359.7 862.7,359.8 863.0,359.9 863.3,360.0 863.5,360.1 863.8,360.3 868.2,363.7 871.8,365.5 878.7,363.5 884.4,360.1 884.7,360.0 884.9,359.9 885.2,359.8 885.5,359.7 885.8,359.7 886.1,359.7 886.4,359.7 886.7,359.8 887.0,359.9 887.3,360.0 887.5,360.2 887.6,360.3 888.9,359.0 888.9,355.4 888.9,355.1 889.0,354.8 889.0,354.6 889.1,354.3 889.2,354.0 889.4,353.8 891.8,350.2 893.9,347.1 895.0,341.7 895.1,341.4 896.3,337.8 896.3,337.5 896.5,337.3 896.6,337.1 896.8,336.8 897.0,336.7 900.6,333.1 900.8,332.9 901.0,332.7 901.3,332.5 901.5,332.4 904.8,331.1 903.7,328.3 900.7,325.3 896.1,321.9 895.9,321.8 895.7,321.6 895.5,321.4 895.3,321.1 895.2,320.9 892.8,316.1 889.2,308.9 889.1,308.6 889.0,308.4 888.9,308.1 888.9,307.8 888.9,307.6 888.9,307.3 889.0,307.0 889.0,306.7 889.1,306.5 889.3,306.2 889.4,306.0 889.6,305.8 889.8,305.6 891.3,304.0 891.0,303.6 890.8,303.4 890.6,303.2 890.4,302.9 890.3,302.7 890.2,302.4 890.1,302.1 890.1,301.8 890.1,301.5 890.1,301.3 890.2,301.0 890.3,300.7 891.5,297.1 891.6,296.7 892.3,295.3 890.0,294.8 889.9,294.8 886.0,293.9 883.1,294.8 882.9,294.8 882.6,294.9 882.3,294.9 882.0,294.9 881.7,294.8 881.4,294.8 881.2,294.7 880.9,294.5 880.6,294.4 880.4,294.2 880.2,294.0 880.0,293.8 879.8,293.5 879.7,293.3 879.6,293.0 879.5,292.7 879.4,292.5 879.4,292.2 879.4,291.9 879.4,291.6 880.5,284.0 878.6,278.1 870.7,270.7 865.6,269.9 857.0,268.9 850.7,269.8 846.3,271.3 841.1,273.0 836.2,278.9 836.0,279.1 835.8,279.3 835.6,279.4 835.4,279.6 835.1,279.7 834.8,279.8 834.6,279.8 834.3,279.9 834.0,279.9 833.7,279.9 833.4,279.8 833.1,279.8 832.9,279.7 832.6,279.6 827.9,277.0 823.4,281.1 823.1,281.3 816.6,285.7 814.0,291.0 813.9,291.2 813.7,291.5 813.5,291.7 813.3,291.9 809.1,295.4 808.8,295.6 808.6,295.7 808.3,295.9 808.1,296.0 807.8,296.0 807.5,296.1 807.2,296.1 807.0,296.1"/><g fill="#6495ED"><circle cx="807.3" cy="296.6" r="3.15"/><circle cx="808.8" cy="298.3" r="3.15"/><circle cx="811.8" cy="300.3" r="3.15"/><circle cx="812.8" cy="303.2" r="3.15"/><circle cx="811.3" cy="305.5" r="3.15"/><circle cx="810.9" cy="308.5" r="3.15"/><circle cx="811.2" cy="312.7" r="3.15"/><circle cx="812.2" cy="314.7" r="3.15"/><circle cx="814.7" cy="315.3" r="3.15"/><circle cx="816.8" cy="316.9" r="3.15"/><circle cx="820.6" cy="319.8" r="3.15"/><circle cx="820.7" cy="322.6" r="3.15"/><circle cx="823.0" cy="324.7" r="3.15"/><circle cx="823.3" cy="327.2" r="3.15"/><circle cx="823.4" cy="331.4" r="3.15"/><circle cx="826.7" cy="333.3" r="3.15"/><circle cx="824.5" cy="337.3" r="3.15"/><circle cx="828.4" cy="338.3" r="3.15"/><circle cx="831.1" cy="339.7" r="3.15"/><circle cx="832.6" cy="342.3" r="3.15"/><circle cx="834.4" cy="344.3" r="3.15"/><circle cx="836.0" cy="346.9" r="3.15"/><circle cx="837.8" cy="348.2" r="3.15"/><circle cx="839.0" cy="351.2" r="3.15"/><circle cx="839.2" cy="354.0" r="3.15"/><circle cx="842.6" cy="356.2" r="3.15"/><circle cx="845.0" cy="357.4" r="3.15"/><circle cx="848.5" cy="357.2" r="3.15"/><circle cx="849.6" cy="359.3" r="3.15"/><circle cx="852.6" cy="360.9" r="3.15"/><circle cx="855.5" cy="362.4" r="3.15"/><circle cx="857.7" cy="362.6" r="3.15"/><circle cx="860.5" cy="360.0" r="3.15"/><circle cx="863.8" cy="360.5" r="3.15"/><circle cx="866.4" cy="361.6" r="3.15"/><circle cx="868.0" cy="364.0" r="3.15"/><circle cx="870.8" cy="365.0" r="3.15"/><circle cx="873.3" cy="364.9" r="3.15"/><circle cx="875.9" cy="363.9" r="3.15"/><circle cx="879.3" cy="363.1" r="3.15"/><circle cx="881.0" cy="361.8" r="3.15"/><circle cx="885.1" cy="360.9" r="3.15"/><circle cx="886.1" cy="359.6" r="3.15"/><circle cx="889.3" cy="358.4" r="3.15"/><circle cx="888.9" cy="355.3" r="3.15"/><circle cx="890.2" cy="352.1" r="3.15"/><circle cx="892.4" cy="349.6" r="3.15"/><circle cx="893.4" cy="348.4" r="3.15"/><circle cx="894.9" cy="344.8" r="3.15"/><circle cx="894.9" cy="341.5" r="3.15"/><circle cx="895.6" cy="338.9" r="3.15"/><circle cx="897.9" cy="336.1" r="3.15"/><circle cx="899.7" cy="334.4" r="3.15"/><circle cx="901.9" cy="332.2" r="3.15"/><circle cx="904.9" cy="331.3" r="3.15"/><circle cx="903.9" cy="328.4" r="3.15"/><circle cx="900.8" cy="326.8" r="3.15"/><circle cx="899.9" cy="324.2" r="3.15"/><circle cx="897.0" cy="322.8" r="3.15"/><circle cx="894.6" cy="320.9" r="3.15"/><circle cx="894.1" cy="318.3" r="3.15"/><circle cx="892.8" cy="314.3" r="3.15"/><circle cx="891.3" cy="312.3" r="3.15"/><circle cx="890.2" cy="310.3" r="3.15"/><circle cx="889.4" cy="306.9" r="3.15"/><circle cx="892.1" cy="304.5" r="3.15"/><circle cx="889.7" cy="302.6" r="3.15"/><circle cx="890.0" cy="300.2" r="3.15"/><circle cx="892.3" cy="297.1" r="3.15"/><circle cx="891.1" cy="295.2" r="3.15"/><circle cx="887.0" cy="294.0" r="3.15"/><circle cx="885.0" cy="294.2" r="3.15"/><circle cx="882.0" cy="294.5" r="3.15"/><circle cx="879.2" cy="293.2" r="3.15"/><circle cx="880.0" cy="290.1" r="3.15"/><circle cx="879.6" cy="286.2" r="3.15"/><circle cx="881.5" cy="283.5" r="3.15"/><circle cx="879.2" cy="280.9" r="3.15"/><circle cx="879.1" cy="278.0" r="3.15"/><circle cx="876.8" cy="276.4" r="3.15"/><circle cx="873.8" cy="274.3" r="3.15"/><circle cx="871.6" cy="272.0" r="3.15"/><circle cx="870.1" cy="270.5" r="3.15"/><circle cx="866.3" cy="269.9" r="3.15"/><circle cx="863.7" cy="269.8" r="3.15"/><circle cx="859.6" cy="268.4" r="3.15"/><circle cx="858.0" cy="268.9" r="3.15"/><circle cx="854.8" cy="269.4" r="3.15"/><circle cx="851.7" cy="269.4" r="3.15"/><circle cx="848.9" cy="270.7" r="3.15"/><circle cx="846.2" cy="271.4" r="3.15"/><circle cx="842.6" cy="272.4" r="3.15"/><circle cx="840.0" cy="273.3" r="3.15"/><circle cx="838.7" cy="276.0" r="3.15"/><circle cx="837.2" cy="278.7" r="3.15"/><circle cx="834.5" cy="279.7" r="3.15"/><circle cx="831.5" cy="278.8" r="3.15"/><circle cx="829.7" cy="277.7" r="3.15"/><circle cx="826.1" cy="277.9" r="3.15"/><circle cx="824.8" cy="279.9" r="3.15"/><circle cx="822.0" cy="282.3" r="3.15"/><circle cx="819.8" cy="283.4" r="3.15"/><circle cx="817.0" cy="285.6" r="3.15"/><circle cx="815.8" cy="288.8" r="3.15"/><circle cx="814.1" cy="290.7" r="3.15"/><circle cx="812.4" cy="292.3" r="3.15"/><circle cx="809.8" cy="294.4" r="3.15"/></g><g fill="#6495ED"><circle cx="857.2" cy="244.0" r="3.15"/><circle cx="856.5" cy="249.0" r="3.15"/><circle cx="855.5" cy="253.0" r="3.15"/><circle cx="857.2" cy="256.2" r="3.15"/><circle cx="861.0" cy="257.4" r="3.15"/><circle cx="865.5" cy="257.4" r="3.15"/><circle cx="869.5" cy="257.0" r="3.15"/><circle cx="873.9" cy="256.8" r="3.15"/><circle cx="876.3" cy="262.2" r="3.15"/><circle cx="875.7" cy="267.0" r="3.15"/><circle cx="829.9" cy="265.8" r="3.15"/><circle cx="840.6" cy="262.2" r="3.15"/><circle cx="829.5" cy="250.6" r="3.15"/><circle cx="800.6" cy="286.1" r="3.15"/><circle cx="800.6" cy="299.8" r="3.15"/><circle cx="794.3" cy="273.0" r="3.15"/><circle cx="786.4" cy="283.4" r="3.15"/><circle cx="795.9" cy="285.0" r="3.15"/><circle cx="799.9" cy="286.1" r="3.15"/><circle cx="782.9" cy="292.2" r="3.15"/><circle cx="798.3" cy="300.1" r="3.15"/><circle cx="800.6" cy="318.4" r="3.15"/><circle cx="812.0" cy="325.5" r="3.15"/><circle cx="817.3" cy="330.9" r="3.15"/><circle cx="805.7" cy="341.3" r="3.15"/><circle cx="822.1" cy="345.3" r="3.15"/><circle cx="829.9" cy="354.0" r="3.15"/><circle cx="809.0" cy="316.6" r="3.15"/><circle cx="812.0" cy="312.4" r="3.15"/><circle cx="906.2" cy="301.6" r="3.15"/><circle cx="902.6" cy="356.0" r="3.15"/><circle cx="889.5" cy="375.8" r="3.15"/><circle cx="891.0" cy="369.5" r="3.15"/><circle cx="893.0" cy="366.2" r="3.15"/><circle cx="869.6" cy="369.4" r="3.15"/><circle cx="852.6" cy="363.8" r="3.15"/><circle cx="857.4" cy="362.6" r="3.15"/><circle cx="888.0" cy="365.5" r="3.15"/><circle cx="765.0" cy="365.4" r="3.15"/><circle cx="904.5" cy="330.5" r="3.15"/><circle cx="899.5" cy="321.0" r="3.15"/></g><ellipse cx="214.3" cy="235.3" rx="132.5" ry="32.3" transform="rotate(-52.6 214.3 235.3)" fill="none" stroke="#66CC00" stroke-width="1.9"/><ellipse cx="858.5" cy="311.5" rx="52.7" ry="40.6" transform="rotate(55.8 858.5 311.5)" fill="none" stroke="#6495ED" stroke-width="1.9"/><g fill="#616161"><circle cx="214.5" cy="236.4" r="4.4"/><circle cx="761.2" cy="116.3" r="4.4"/><circle cx="859.3" cy="314.4" r="4.4"/><circle cx="809.9" cy="214.5" r="4.2"/></g><rect x="56.35" y="11.7" width="890.05" height="380.65000000000003" fill="none" stroke="#000" stroke-width="3.6"/><g stroke="#333" stroke-width="1.6"><line x1="115.0" y1="394.15000000000003" x2="115.0" y2="399.35"/><line x1="280.0" y1="394.15000000000003" x2="280.0" y2="399.35"/><line x1="445.0" y1="394.15000000000003" x2="445.0" y2="399.35"/><line x1="610.0" y1="394.15000000000003" x2="610.0" y2="399.35"/><line x1="775.0" y1="394.15000000000003" x2="775.0" y2="399.35"/><line x1="940.0" y1="394.15000000000003" x2="940.0" y2="399.35"/><line x1="54.550000000000004" y1="389.9" x2="49.35" y2="389.9"/><line x1="54.550000000000004" y1="307.4" x2="49.35" y2="307.4"/><line x1="54.550000000000004" y1="224.9" x2="49.35" y2="224.9"/><line x1="54.550000000000004" y1="142.5" x2="49.35" y2="142.5"/><line x1="54.550000000000004" y1="60.0" x2="49.35" y2="60.0"/></g><g fill="#4D4D4D" font-family="Liberation Sans, sans-serif" font-size="23.2"><text transform="translate(113.8,419.0) scale(0.91,1)" text-anchor="middle">-6</text><text transform="translate(278.8,419.0) scale(0.91,1)" text-anchor="middle">-4</text><text transform="translate(443.8,419.0) scale(0.91,1)" text-anchor="middle">-2</text><text transform="translate(608.8,419.0) scale(0.91,1)" text-anchor="middle">0</text><text transform="translate(773.8,419.0) scale(0.91,1)" text-anchor="middle">2</text><text transform="translate(938.8,419.0) scale(0.91,1)" text-anchor="middle">4</text><text transform="translate(45.6,399.1) scale(0.91,1)" text-anchor="end">-2</text><text transform="translate(45.6,316.6) scale(0.91,1)" text-anchor="end">-1</text><text transform="translate(45.6,234.1) scale(0.91,1)" text-anchor="end">0</text><text transform="translate(45.6,151.7) scale(0.91,1)" text-anchor="end">1</text><text transform="translate(45.6,69.2) scale(0.91,1)" text-anchor="end">2</text></g><text x="501.0" y="448" text-anchor="middle" font-family="Liberation Sans, sans-serif" font-size="25" fill="#000">Divergence axis 1 (Wing)</text><text transform="translate(21.2,201.9) rotate(-90)" text-anchor="middle" font-family="Liberation Sans, sans-serif" font-size="25.6" fill="#000">Divergence axis 2 (Femur,Antenna)</text><rect x="269.2" y="473.2" width="27.8" height="27.6" fill="#F2F2F2"/><line x1="270.5" y1="487.1" x2="294.5" y2="487.1" stroke="#6495ED" stroke-width="2.4"/><circle cx="283.5" cy="487.1" r="3.2" fill="#6495ED"/><rect x="440.0" y="473.2" width="27.8" height="27.6" fill="#F2F2F2"/><line x1="441.3" y1="487.1" x2="465.3" y2="487.1" stroke="#B03060" stroke-width="2.4"/><circle cx="454.3" cy="487.1" r="3.2" fill="#B03060"/><rect x="562.6" y="473.2" width="27.8" height="27.6" fill="#F2F2F2"/><line x1="563.9" y1="487.1" x2="587.9" y2="487.1" stroke="#66CC00" stroke-width="2.4"/><circle cx="576.9" cy="487.1" r="3.2" fill="#66CC00"/><g font-family="Liberation Sans, sans-serif" font-style="italic" font-size="26" fill="#000"><text x="297.2" y="495.4" textLength="141.7" lengthAdjust="spacingAndGlyphs">C. biguttulus</text><text x="469.0" y="495.4" textLength="94.8" lengthAdjust="spacingAndGlyphs">G. rufus</text><text x="590.2" y="495.4" textLength="144.5" lengthAdjust="spacingAndGlyphs">P. parallelus</text></g>
</svg></body></html>
